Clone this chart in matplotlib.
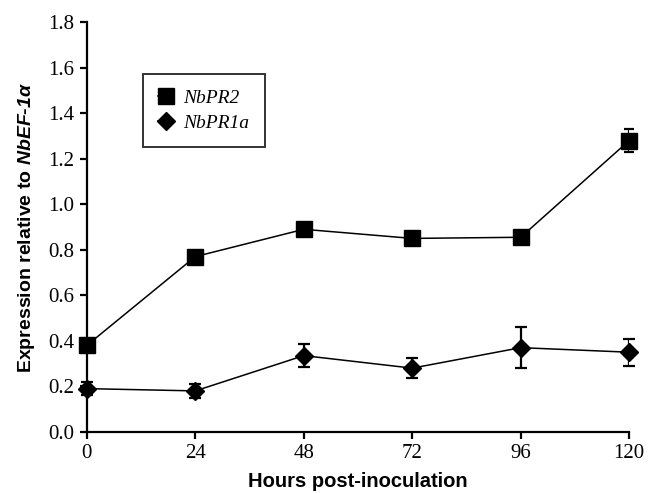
import numpy as np
import matplotlib
matplotlib.use('Agg')
import matplotlib.pyplot as plt

hours = [0, 24, 48, 72, 96, 120]
pr2 = [0.38, 0.77, 0.89, 0.85, 0.855, 1.28]
pr2_err = [0.0, 0.0, 0.0, 0.0, 0.0, 0.05]
pr1a = [0.19, 0.18, 0.335, 0.28, 0.37, 0.35]
pr1a_err = [0.03, 0.03, 0.05, 0.045, 0.09, 0.06]

plt.rcParams['mathtext.fontset'] = 'custom'
plt.rcParams['mathtext.bfit'] = 'Liberation Sans:italic:bold'
plt.rcParams['mathtext.it'] = 'Liberation Sans:italic'
plt.rcParams['mathtext.rm'] = 'Liberation Sans'

fig = plt.figure(figsize=(6.48, 4.93), dpi=100)
ax = fig.add_axes([0.134, 0.124, 0.837, 0.831])

ax.errorbar(hours, pr2, yerr=pr2_err, color='black', marker='s', markersize=12,
            linewidth=1.1, elinewidth=1.6, capsize=3.5, capthick=1.6, label='NbPR2')
ax.errorbar(hours, pr1a, yerr=pr1a_err, color='black', marker='D', markersize=9,
            linewidth=1.1, elinewidth=1.6, capsize=4, capthick=1.6, label='NbPR1a')

ax.set_xlim(0, 120)
ax.set_ylim(0, 1.8)
ax.set_xticks(hours)
ax.set_yticks(np.arange(0, 1.81, 0.2))
ax.set_yticklabels([f'{v:.1f}' for v in np.arange(0, 1.81, 0.2)])
ax.spines['top'].set_visible(False)
ax.spines['right'].set_visible(False)
ax.spines['left'].set_linewidth(1.6)
ax.spines['bottom'].set_linewidth(1.6)
ax.tick_params(direction='out', length=5, width=1.6, labelsize=15, pad=4)
for lab in ax.get_xticklabels() + ax.get_yticklabels():
    lab.set_fontfamily('Liberation Serif')
for line in ax.get_lines():
    line.set_clip_on(False)

ax.set_xlabel('Hours post-inoculation', fontfamily='Liberation Sans', fontweight='bold',
              fontsize=14.5, labelpad=6)
ax.set_ylabel(r'Expression relative to $\mathbfit{NbEF}$-$\mathbfit{1\alpha}$',
              fontfamily='Liberation Sans', fontweight='bold', fontsize=14, labelpad=8)

handles, labels = ax.get_legend_handles_labels()
handles = [h[0] for h in handles]
leg = ax.legend(handles, labels, loc='upper left', bbox_to_anchor=(0.085, 0.897),
                frameon=True, fancybox=False, edgecolor='black', handlelength=0.8,
                handletextpad=0.5, borderpad=0.8, labelspacing=0.35,
                prop={'family': 'Liberation Serif', 'style': 'italic', 'size': 14})
leg.get_frame().set_linewidth(1.4)

fig.savefig('out.png', dpi=100)
